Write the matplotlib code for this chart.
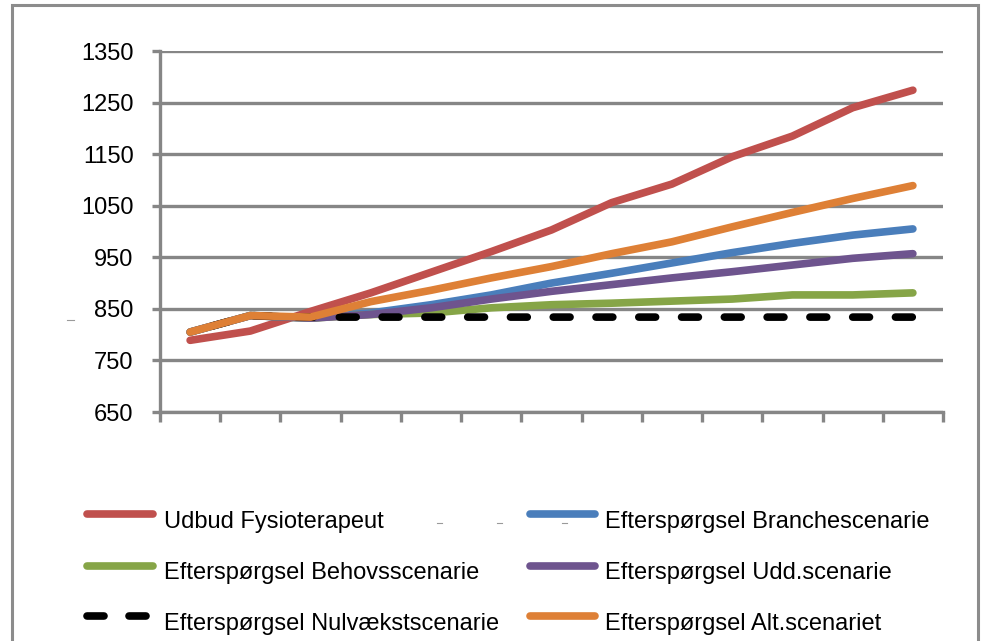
import matplotlib
matplotlib.use("Agg")
import matplotlib.pyplot as plt
from matplotlib.lines import Line2D
from matplotlib.patches import Rectangle

# ---- data ----
years = list(range(13))
udbud = [789, 807, 845, 881, 921, 961, 1003, 1056, 1092, 1145, 1185, 1240, 1274]
branche = [805, 837, 832, 842, 858, 877, 900, 919, 939, 959, 977, 993, 1005]
behov = [805, 837, 832, 839, 842, 852, 858, 861, 865, 869, 877, 877, 881]
udd = [805, 837, 832, 839, 852, 869, 884, 897, 910, 922, 935, 948, 957]
nulvaekst = [805, 837, 834, 834, 834, 834, 834, 834, 834, 834, 834, 834, 834]
alt = [805, 837, 834, 864, 886, 910, 932, 957, 980, 1009, 1037, 1064, 1089]
yticks = [650, 750, 850, 950, 1050, 1150, 1250, 1350]

labels = ["Udbud Fysioterapeut", "Efterspørgsel Branchescenarie",
          "Efterspørgsel Behovsscenarie", "Efterspørgsel Udd.scenarie",
          "Efterspørgsel Nulvækstscenarie", "Efterspørgsel Alt.scenariet"]
colors = ["#C0504D", "#4A7EBB", "#86A547", "#6E548E", "#000000", "#DE8036"]
series = [udbud, branche, behov, udd, nulvaekst, alt]

W, H = 982, 641
fig = plt.figure(figsize=(W / 100, H / 100), dpi=100)
plt.rcParams['font.family'] = ['Liberation Sans', 'DejaVu Sans']

def fx(px):
    return px / W

def fy(py):
    return 1 - py / H

ax = fig.add_axes([fx(160), fy(412), fx(943) - fx(160), fy(51) - fy(412)])

LW = 5.5
for i, (s, c) in enumerate(zip(series, colors)):
    if i == 4:
        ln, = ax.plot(years, s, color=c, lw=LW, dash_capstyle='round',
                      dash_joinstyle='round', zorder=3 + i)
        ln.set_linestyle((2.57, (2.2, 3.4)))
    else:
        ax.plot(years, s, color=c, lw=LW, solid_capstyle='round',
                solid_joinstyle='round', zorder=3 + i)

grid_c = "#868686"
ax.set_ylim(650, 1350)
ax.set_xlim(-0.5, 12.5)
ax.set_yticks(yticks)
ax.set_yticklabels([str(v) for v in yticks], fontsize=17)
ax.set_xticks([x - 0.5 for x in range(14)])
ax.set_xticklabels([])
ax.yaxis.grid(True, color=grid_c, lw=2.4)
ax.set_axisbelow(True)
for side in ["top", "right"]:
    ax.spines[side].set_visible(False)
for side in ["left", "bottom"]:
    ax.spines[side].set_color(grid_c)
    ax.spines[side].set_linewidth(2.4)
ax.tick_params(axis='y', length=6, width=2.4, color=grid_c, pad=13, labelcolor='black')
ax.tick_params(axis='x', length=7, width=2.4, color=grid_c)
ax.set_facecolor('white')

# outer border
fig.patches.append(Rectangle((fx(12), fy(660)), fx(978) - fx(12), fy(5) - fy(660),
                             transform=fig.transFigure, fill=False,
                             edgecolor="#8C8C8C", lw=2.2, zorder=0))

# legend (manual, row-wise like the original)
rows_handle = [514, 566, 616]
rows_base = [528, 579, 630]
cols_handle = [(87, 153), (530, 595)]
cols_text = [164, 605]
for k, (lab, c) in enumerate(zip(labels, colors)):
    r, col = k // 2, k % 2
    x0, x1 = cols_handle[col]
    yh = fy(rows_handle[r])
    if k == 4:
        for a, b in [(87, 104), (129, 146)]:
            fig.add_artist(Line2D([fx(a), fx(b)], [yh, yh], color=c, lw=LW,
                                  solid_capstyle='round', transform=fig.transFigure))
    else:
        fig.add_artist(Line2D([fx(x0), fx(x1)], [yh, yh], color=c, lw=LW,
                              solid_capstyle='round', transform=fig.transFigure))
    fig.text(fx(cols_text[col]), fy(rows_base[r]), lab, fontsize=17,
             va='baseline', ha='left')

# small stray marks seen in the original
for (a, b, y) in [(67, 74, 320), (437, 442, 523), (497, 502, 523), (562, 567, 523)]:
    fig.add_artist(Line2D([fx(a), fx(b)], [fy(y), fy(y)], color="#9A9A9A", lw=0.8,
                          transform=fig.transFigure))

fig.savefig("out.png", dpi=100, facecolor='white')
